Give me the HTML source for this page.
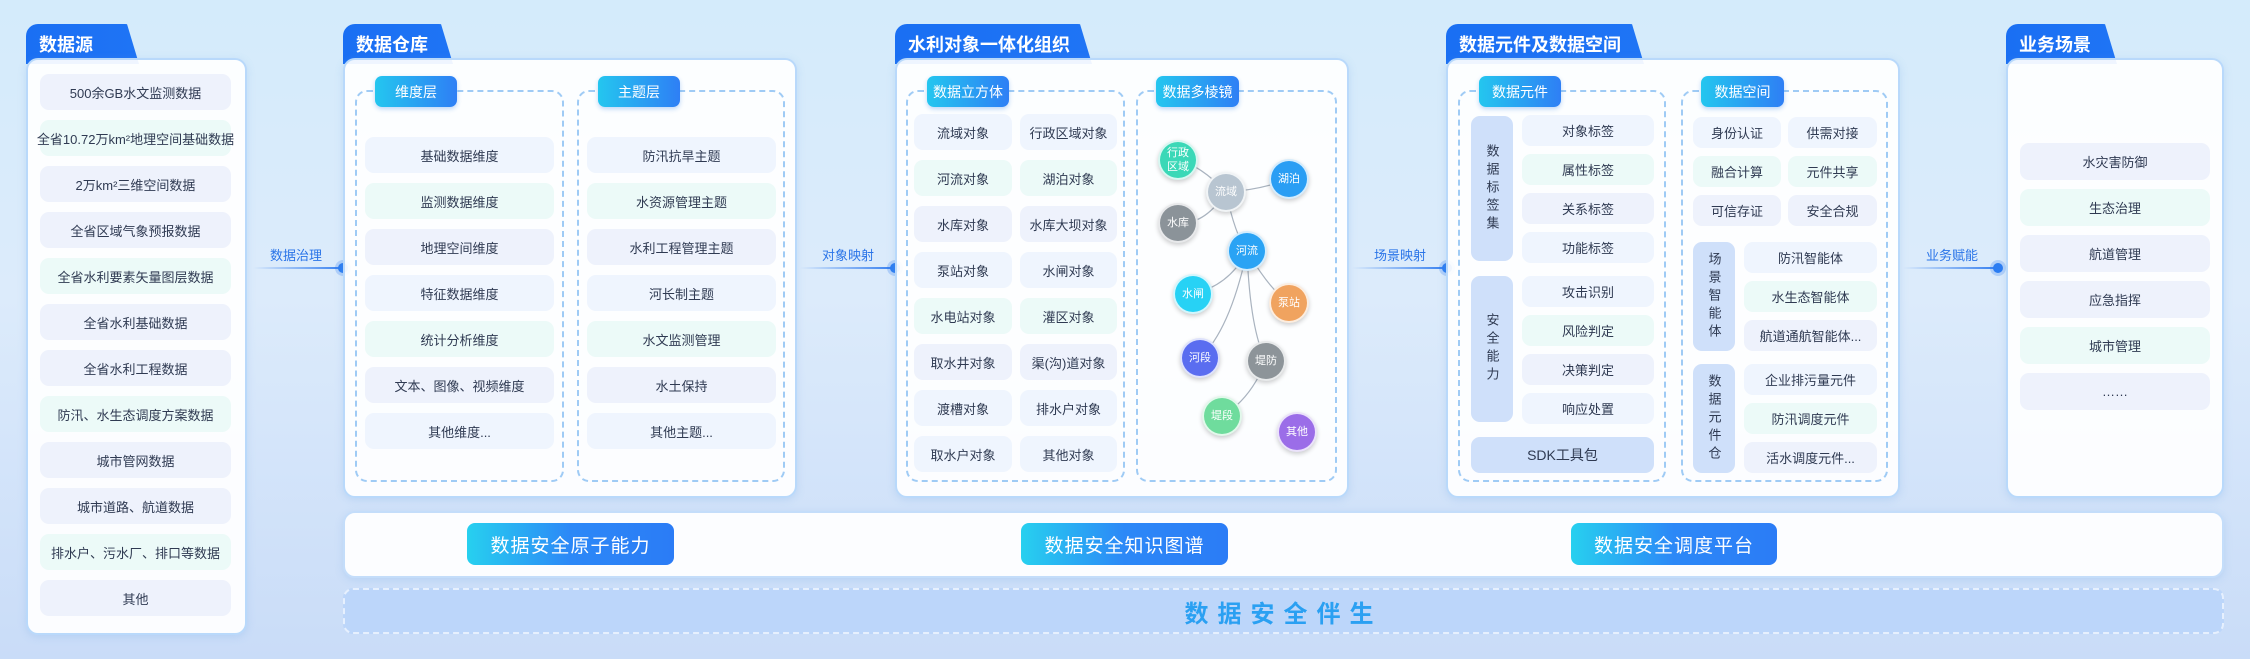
<!DOCTYPE html>
<html><head><meta charset="utf-8">
<style>
*{margin:0;padding:0;box-sizing:border-box}
body{width:2250px;height:659px;overflow:hidden;position:relative;font-family:"Liberation Sans","Noto Sans CJK SC",sans-serif;background:linear-gradient(180deg,#d4ebfb 0%,#dcebfb 45%,#c9dcf8 100%);}
.a{position:absolute}
.tab{position:absolute;height:40px;background:linear-gradient(90deg,#1a6ff3,#1f74f5);color:#fff;font-size:18px;font-weight:bold;padding:7px 0 0 13px;border-radius:12px 14px 0 0;clip-path:polygon(0 0,calc(100% - 12px) 0,100% 100%,0 100%);white-space:nowrap}
.panel{position:absolute;background:rgba(255,255,255,0.93);border:2px solid #b9d9fb;border-radius:12px;box-shadow:0 2px 8px rgba(120,170,230,.25)}
.it{position:absolute;border-radius:9px;display:flex;align-items:center;justify-content:center;font-size:13px;color:#2f3a52;white-space:nowrap}
.l{background:#eef2fc}.m{background:#ecfaf8}.b{background:#eff5fe}
.dash{position:absolute;border:2px dashed #9fcbf5;border-radius:12px}
.pill{position:absolute;height:31px;border-radius:7px;background:linear-gradient(90deg,#24c6ef,#2e7ff5);color:#fff;font-size:14px;display:flex;align-items:center;justify-content:center;box-shadow:0 2px 5px rgba(40,120,230,.3)}
.vl{position:absolute;background:#cfe0fa;border-radius:9px;color:#2f3a52;font-size:13px;display:flex;align-items:center;justify-content:center;writing-mode:vertical-rl;letter-spacing:5px}
.arrow{position:absolute;height:2px;background:linear-gradient(90deg,rgba(60,130,240,0),#3a82f0)}
.dot{position:absolute;width:10px;height:10px;border-radius:50%;background:#2a7cf2;box-shadow:0 0 0 3px rgba(42,124,242,.25)}
.at{position:absolute;color:#2a74e8;font-size:13px}
.btn{position:absolute;height:42px;border-radius:8px;background:linear-gradient(90deg,#27d0ef,#2c88f7 50%,#2b7cf6);color:#fff;font-size:19px;display:flex;align-items:center;justify-content:center;letter-spacing:1px}
.n{position:absolute;width:40px;height:40px;border-radius:50%;color:#fff;font-size:11px;display:flex;align-items:center;justify-content:center;text-align:center;line-height:14px;border:2px solid rgba(255,255,255,.8);box-shadow:0 2px 5px rgba(0,0,0,.2)}
</style></head><body>

<!-- column 1 -->
<div class="tab" style="left:26px;top:24px;width:113px">数据源</div>
<div class="panel" style="left:26px;top:58px;width:221px;height:577px"></div>
<div class="it l" style="left:40px;top:74px;width:191px;height:36px">500余GB水文监测数据</div>
<div class="it m" style="left:40px;top:120px;width:191px;height:36px">全省10.72万km²地理空间基础数据</div>
<div class="it l" style="left:40px;top:166px;width:191px;height:36px">2万km²三维空间数据</div>
<div class="it l" style="left:40px;top:212px;width:191px;height:36px">全省区域气象预报数据</div>
<div class="it m" style="left:40px;top:258px;width:191px;height:36px">全省水利要素矢量图层数据</div>
<div class="it l" style="left:40px;top:304px;width:191px;height:36px">全省水利基础数据</div>
<div class="it l" style="left:40px;top:350px;width:191px;height:36px">全省水利工程数据</div>
<div class="it m" style="left:40px;top:396px;width:191px;height:36px">防汛、水生态调度方案数据</div>
<div class="it l" style="left:40px;top:442px;width:191px;height:36px">城市管网数据</div>
<div class="it l" style="left:40px;top:488px;width:191px;height:36px">城市道路、航道数据</div>
<div class="it m" style="left:40px;top:534px;width:191px;height:36px">排水户、污水厂、排口等数据</div>
<div class="it l" style="left:40px;top:580px;width:191px;height:36px">其他</div>

<div class="at" style="left:270px;top:245px">数据治理</div>
<div class="arrow" style="left:253px;top:267px;width:88px"></div>
<div class="dot" style="left:338px;top:263px"></div>

<!-- column 2 -->
<div class="tab" style="left:343px;top:24px;width:110px">数据仓库</div>
<div class="panel" style="left:343px;top:58px;width:454px;height:440px"></div>
<div class="dash" style="left:355px;top:90px;width:209px;height:392px"></div>
<div class="dash" style="left:577px;top:90px;width:208px;height:392px"></div>
<div class="pill" style="left:375px;top:76px;width:82px">维度层</div>
<div class="pill" style="left:598px;top:76px;width:82px">主题层</div>
<div class="it b" style="left:365px;top:137px;width:189px;height:36px">基础数据维度</div>
<div class="it m" style="left:365px;top:183px;width:189px;height:36px">监测数据维度</div>
<div class="it l" style="left:365px;top:229px;width:189px;height:36px">地理空间维度</div>
<div class="it b" style="left:365px;top:275px;width:189px;height:36px">特征数据维度</div>
<div class="it m" style="left:365px;top:321px;width:189px;height:36px">统计分析维度</div>
<div class="it l" style="left:365px;top:367px;width:189px;height:36px">文本、图像、视频维度</div>
<div class="it b" style="left:365px;top:413px;width:189px;height:36px">其他维度...</div>
<div class="it b" style="left:587px;top:137px;width:189px;height:36px">防汛抗旱主题</div>
<div class="it m" style="left:587px;top:183px;width:189px;height:36px">水资源管理主题</div>
<div class="it l" style="left:587px;top:229px;width:189px;height:36px">水利工程管理主题</div>
<div class="it b" style="left:587px;top:275px;width:189px;height:36px">河长制主题</div>
<div class="it m" style="left:587px;top:321px;width:189px;height:36px">水文监测管理</div>
<div class="it l" style="left:587px;top:367px;width:189px;height:36px">水土保持</div>
<div class="it b" style="left:587px;top:413px;width:189px;height:36px">其他主题...</div>

<div class="at" style="left:822px;top:245px">对象映射</div>
<div class="arrow" style="left:800px;top:267px;width:92px"></div>
<div class="dot" style="left:890px;top:263px"></div>

<!-- column 3 -->
<div class="tab" style="left:895px;top:24px;width:197px">水利对象一体化组织</div>
<div class="panel" style="left:895px;top:58px;width:454px;height:440px"></div>
<div class="dash" style="left:906px;top:90px;width:219px;height:392px"></div>
<div class="dash" style="left:1136px;top:90px;width:201px;height:392px"></div>
<div class="pill" style="left:927px;top:76px;width:82px">数据立方体</div>
<div class="pill" style="left:1156px;top:76px;width:83px">数据多棱镜</div>
<div class="it b" style="left:914px;top:114px;width:98px;height:36px">流域对象</div>
<div class="it b" style="left:1020px;top:114px;width:97px;height:36px">行政区域对象</div>
<div class="it m" style="left:914px;top:160px;width:98px;height:36px">河流对象</div>
<div class="it m" style="left:1020px;top:160px;width:97px;height:36px">湖泊对象</div>
<div class="it l" style="left:914px;top:206px;width:98px;height:36px">水库对象</div>
<div class="it l" style="left:1020px;top:206px;width:97px;height:36px">水库大坝对象</div>
<div class="it b" style="left:914px;top:252px;width:98px;height:36px">泵站对象</div>
<div class="it b" style="left:1020px;top:252px;width:97px;height:36px">水闸对象</div>
<div class="it m" style="left:914px;top:298px;width:98px;height:36px">水电站对象</div>
<div class="it m" style="left:1020px;top:298px;width:97px;height:36px">灌区对象</div>
<div class="it l" style="left:914px;top:344px;width:98px;height:36px">取水井对象</div>
<div class="it l" style="left:1020px;top:344px;width:97px;height:36px">渠(沟)道对象</div>
<div class="it b" style="left:914px;top:390px;width:98px;height:36px">渡槽对象</div>
<div class="it b" style="left:1020px;top:390px;width:97px;height:36px">排水户对象</div>
<div class="it b" style="left:914px;top:436px;width:98px;height:36px">取水户对象</div>
<div class="it b" style="left:1020px;top:436px;width:97px;height:36px">其他对象</div>

<svg class="a" style="left:0;top:0" width="2250" height="659">
<g stroke="#a9b3bf" stroke-width="1.2" fill="none">
<path d="M1178 160 Q1200 165 1226 192"/>
<path d="M1226 192 Q1260 190 1289 179"/>
<path d="M1178 223 Q1205 225 1226 192"/>
<path d="M1226 192 Q1235 235 1247 251"/>
<path d="M1247 251 Q1230 285 1193 294"/>
<path d="M1247 251 Q1270 290 1289 303"/>
<path d="M1247 251 Q1230 330 1200 358"/>
<path d="M1247 251 Q1250 330 1266 361"/>
<path d="M1266 361 Q1250 400 1222 416"/>
</g></svg>
<div class="n" style="left:1158px;top:140px;background:#3bd8b7">行政<br>区域</div>
<div class="n" style="left:1206px;top:172px;background:#b8c5d1">流域</div>
<div class="n" style="left:1269px;top:159px;background:#2a9ef4">湖泊</div>
<div class="n" style="left:1158px;top:203px;background:#8b9399">水库</div>
<div class="n" style="left:1227px;top:231px;background:#2aa3f4">河流</div>
<div class="n" style="left:1173px;top:274px;background:#27d2f5">水闸</div>
<div class="n" style="left:1269px;top:283px;background:#f0a35f">泵站</div>
<div class="n" style="left:1180px;top:338px;background:#5a6df0">河段</div>
<div class="n" style="left:1246px;top:341px;background:#8d9499">堤防</div>
<div class="n" style="left:1202px;top:396px;background:#6fdc9d">堤段</div>
<div class="n" style="left:1277px;top:412px;background:#9b6de8">其他</div>

<div class="at" style="left:1374px;top:245px">场景映射</div>
<div class="arrow" style="left:1352px;top:267px;width:92px"></div>
<div class="dot" style="left:1442px;top:263px"></div>

<!-- column 4 -->
<div class="tab" style="left:1446px;top:24px;width:198px">数据元件及数据空间</div>
<div class="panel" style="left:1446px;top:58px;width:454px;height:440px"></div>
<div class="dash" style="left:1458px;top:90px;width:208px;height:392px"></div>
<div class="dash" style="left:1681px;top:90px;width:207px;height:392px"></div>
<div class="pill" style="left:1479px;top:76px;width:82px">数据元件</div>
<div class="pill" style="left:1701px;top:76px;width:83px">数据空间</div>
<div class="vl" style="left:1471px;top:116px;width:42px;height:145px">数据标签集</div>
<div class="vl" style="left:1471px;top:276px;width:42px;height:146px">安全能力</div>
<div class="it b" style="left:1522px;top:115px;width:132px;height:31px">对象标签</div>
<div class="it m" style="left:1522px;top:154px;width:132px;height:31px">属性标签</div>
<div class="it l" style="left:1522px;top:193px;width:132px;height:31px">关系标签</div>
<div class="it b" style="left:1522px;top:232px;width:132px;height:31px">功能标签</div>
<div class="it b" style="left:1522px;top:276px;width:132px;height:31px">攻击识别</div>
<div class="it m" style="left:1522px;top:315px;width:132px;height:31px">风险判定</div>
<div class="it l" style="left:1522px;top:354px;width:132px;height:31px">决策判定</div>
<div class="it b" style="left:1522px;top:393px;width:132px;height:31px">响应处置</div>
<div class="it" style="left:1471px;top:437px;width:183px;height:36px;background:#cfe0fa;font-size:14px">SDK工具包</div>

<div class="it b" style="left:1693px;top:117px;width:88px;height:31px">身份认证</div>
<div class="it b" style="left:1788px;top:117px;width:89px;height:31px">供需对接</div>
<div class="it m" style="left:1693px;top:156px;width:88px;height:31px">融合计算</div>
<div class="it m" style="left:1788px;top:156px;width:89px;height:31px">元件共享</div>
<div class="it l" style="left:1693px;top:195px;width:88px;height:31px">可信存证</div>
<div class="it l" style="left:1788px;top:195px;width:89px;height:31px">安全合规</div>
<div class="vl" style="left:1693px;top:242px;width:42px;height:109px">场景智能体</div>
<div class="it b" style="left:1744px;top:242px;width:133px;height:31px">防汛智能体</div>
<div class="it m" style="left:1744px;top:281px;width:133px;height:31px">水生态智能体</div>
<div class="it l" style="left:1744px;top:320px;width:133px;height:31px">航道通航智能体...</div>
<div class="vl" style="left:1693px;top:364px;width:42px;height:109px">数据元件仓</div>
<div class="it b" style="left:1744px;top:364px;width:133px;height:31px">企业排污量元件</div>
<div class="it m" style="left:1744px;top:403px;width:133px;height:31px">防汛调度元件</div>
<div class="it l" style="left:1744px;top:442px;width:133px;height:31px">活水调度元件...</div>

<div class="at" style="left:1926px;top:245px">业务赋能</div>
<div class="arrow" style="left:1903px;top:267px;width:92px"></div>
<div class="dot" style="left:1993px;top:263px"></div>

<!-- column 5 -->
<div class="tab" style="left:2006px;top:24px;width:111px">业务场景</div>
<div class="panel" style="left:2006px;top:58px;width:218px;height:440px"></div>
<div class="it l" style="left:2020px;top:143px;width:190px;height:37px">水灾害防御</div>
<div class="it m" style="left:2020px;top:189px;width:190px;height:37px">生态治理</div>
<div class="it l" style="left:2020px;top:235px;width:190px;height:37px">航道管理</div>
<div class="it l" style="left:2020px;top:281px;width:190px;height:37px">应急指挥</div>
<div class="it m" style="left:2020px;top:327px;width:190px;height:37px">城市管理</div>
<div class="it l" style="left:2020px;top:373px;width:190px;height:37px">……</div>

<!-- bottom -->
<div class="panel" style="left:343px;top:511px;width:1881px;height:67px;border-color:#c4ddfa"></div>
<div class="btn" style="left:467px;top:523px;width:207px">数据安全原子能力</div>
<div class="btn" style="left:1021px;top:523px;width:207px">数据安全知识图谱</div>
<div class="btn" style="left:1571px;top:523px;width:206px">数据安全调度平台</div>
<div class="a" style="left:343px;top:588px;width:1881px;height:46px;background:#bcd6fa;border:2px dashed #e6f0fe;border-radius:10px;display:flex;align-items:center;justify-content:center;color:#2aa0f2;font-size:24px;font-weight:bold;letter-spacing:9px">数据安全伴生</div>
</body></html>
